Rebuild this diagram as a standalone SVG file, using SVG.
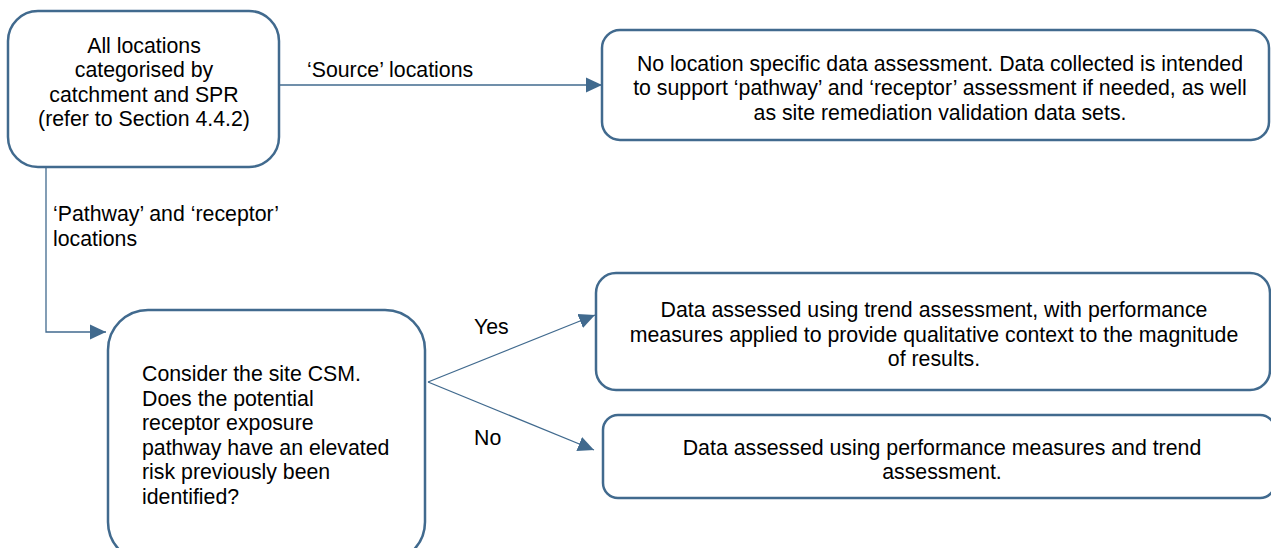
<svg xmlns="http://www.w3.org/2000/svg" width="1271" height="548" viewBox="0 0 1271 548">
<defs>
<style>
.box{fill:#ffffff;stroke:#416a8e;stroke-width:2.5}
.conn{fill:none;stroke:#416a8e;stroke-width:1.3}
text{font-family:"Liberation Sans",Arial,sans-serif;font-size:21.3px;fill:#000000}
.c{text-anchor:middle}
</style>
<marker id="arr" markerUnits="userSpaceOnUse" markerWidth="16" markerHeight="16" viewBox="0 0 16 16" refX="16" refY="8" orient="auto">
<path d="M0,0.5 L16,8 L0,15.5 Z" fill="#416a8e"/>
</marker>
</defs>
<rect width="1271" height="548" fill="#ffffff"/>
<g id="connectors">
<line class="conn" x1="279" y1="85" x2="602" y2="85" marker-end="url(#arr)"/>
<polyline class="conn" points="46,167 46,332 106,332" marker-end="url(#arr)"/>
<line class="conn" x1="428" y1="382" x2="595" y2="315" marker-end="url(#arr)"/>
<line class="conn" x1="428" y1="382" x2="594" y2="450" marker-end="url(#arr)"/>
<text x="307" y="77">‘Source’ locations</text>
<text x="53" y="221">‘Pathway’ and ‘receptor’</text>
<text x="53" y="246">locations</text>
<text x="474" y="334">Yes</text>
<text x="474" y="445">No</text>
</g>
<g id="node-all-locations">
<rect class="box" x="8" y="11" width="271" height="156" rx="30"/>
<text class="c" x="144" y="52.5">All locations</text>
<text class="c" x="144" y="77">categorised by</text>
<text class="c" x="144" y="101.5">catchment and SPR</text>
<text class="c" x="144" y="126">(refer to Section 4.4.2)</text>
</g>
<g id="node-source">
<rect class="box" x="602" y="30" width="667" height="110" rx="18"/>
<text class="c" x="940" y="70.5">No location specific data assessment. Data collected is intended</text>
<text class="c" x="940" y="95">to support ‘pathway’ and ‘receptor’ assessment if needed, as well</text>
<text class="c" x="940" y="120">as site remediation validation data sets.</text>
</g>
<g id="node-consider">
<rect class="box" x="108" y="310" width="317" height="252" rx="40"/>
<text x="142" y="380.5">Consider the site CSM.</text>
<text x="142" y="405.5">Does the potential</text>
<text x="142" y="430">receptor exposure</text>
<text x="142" y="454.5">pathway have an elevated</text>
<text x="142" y="479">risk previously been</text>
<text x="142" y="503.5">identified?</text>
</g>
<g id="node-yes">
<rect class="box" x="596" y="273" width="674" height="117" rx="20"/>
<text class="c" x="934" y="316.5">Data assessed using trend assessment, with performance</text>
<text class="c" x="934" y="341.5">measures applied to provide qualitative context to the magnitude</text>
<text class="c" x="934" y="366">of results.</text>
</g>
<g id="node-no">
<rect class="box" x="603" y="415" width="672" height="83" rx="15"/>
<text class="c" x="942" y="454.5">Data assessed using performance measures and trend</text>
<text class="c" x="942" y="479">assessment.</text>
</g>
</svg>
